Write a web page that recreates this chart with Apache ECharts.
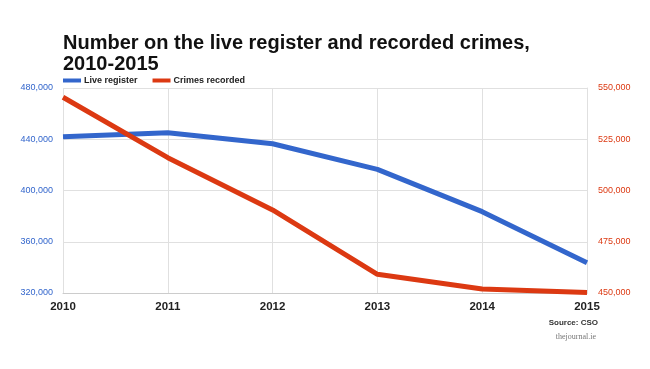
<!DOCTYPE html>
<html>
<head>
<meta charset="utf-8">
<script src="https://cdn.jsdelivr.net/npm/echarts@6/dist/echarts.min.js"></script>
<style>html,body{margin:0;padding:0;background:#fff}#c{width:650px;height:369px}</style>
</head>
<body>
<div id="c"></div>
<script>
var years = ['2010', '2011', '2012', '2013', '2014', '2015'];
var liveRegister = [442000, 445000, 436500, 416500, 383500, 343700];
var crimesRecorded = [545500, 516000, 490500, 459100, 452000, 450300];
var leftTicks = [320000, 360000, 400000, 440000, 480000];
var rightTicks = [450000, 475000, 500000, 525000, 550000];

var BLUE = '#3366cc', RED = '#dc3912';
var FONT = '"Liberation Sans", Arial, sans-serif';
function fmt(v) { return String(v).replace(/\B(?=(\d{3})+(?!\d))/g, ','); }

var chart = echarts.init(document.getElementById('c'), null, { renderer: 'canvas' });
chart.setOption({
  animation: false,
  backgroundColor: '#fff',
  title: {
    text: 'Number on the live register and recorded crimes,\n2010-2015',
    left: 58, top: 28,
    textStyle: { fontFamily: FONT, fontSize: 20, fontWeight: 'bold', color: '#111', lineHeight: 21 }
  },
  legend: {
    left: 58, top: 71,
    itemWidth: 18, itemHeight: 4, itemGap: 15,
    icon: 'rect',
    textStyle: { fontFamily: FONT, fontSize: 9, fontWeight: 'bold', color: '#222', padding: [0, 0, 0, -2] },
    data: ['Live register', 'Crimes recorded']
  },
  grid: { left: 63, right: 63, top: 88, bottom: 76 },
  xAxis: {
    type: 'category', data: years, boundaryGap: false,
    axisLine: { show: true, lineStyle: { color: '#cccccc' } },
    axisTick: { show: false },
    splitLine: { show: true, lineStyle: { color: '#e0e0e0' } },
    axisLabel: { fontFamily: FONT, fontSize: 11.5, fontWeight: 'bold', color: '#222', margin: 8 }
  },
  yAxis: [{
    type: 'value', min: leftTicks[0], max: leftTicks[leftTicks.length - 1], interval: 40000,
    position: 'left',
    axisLine: { show: false }, axisTick: { show: false },
    splitLine: { show: true, lineStyle: { color: '#e0e0e0' } },
    axisLabel: { fontFamily: FONT, fontSize: 9, color: BLUE, margin: 10, formatter: fmt }
  }, {
    type: 'value', min: rightTicks[0], max: rightTicks[rightTicks.length - 1], interval: 25000,
    position: 'right',
    axisLine: { show: true, lineStyle: { color: '#e0e0e0' } }, axisTick: { show: false },
    splitLine: { show: false },
    axisLabel: { fontFamily: FONT, fontSize: 9, color: RED, margin: 11, formatter: fmt }
  }],
  series: [{
    name: 'Live register', type: 'line', yAxisIndex: 0, data: liveRegister,
    symbol: 'none', color: BLUE, lineStyle: { width: 5, color: BLUE }
  }, {
    name: 'Crimes recorded', type: 'line', yAxisIndex: 1, data: crimesRecorded,
    symbol: 'none', color: RED, lineStyle: { width: 5, color: RED }
  }],
  graphic: [{
    type: 'text', right: 52, top: 319,
    style: { text: 'Source: CSO', font: 'bold 8px ' + FONT, fill: '#333' }
  }, {
    type: 'text', right: 54, top: 333,
    style: { text: 'thejournal.ie', font: '8px "Liberation Serif", "DejaVu Serif", serif', fill: '#777' }
  }]
});
</script>
</body>
</html>
